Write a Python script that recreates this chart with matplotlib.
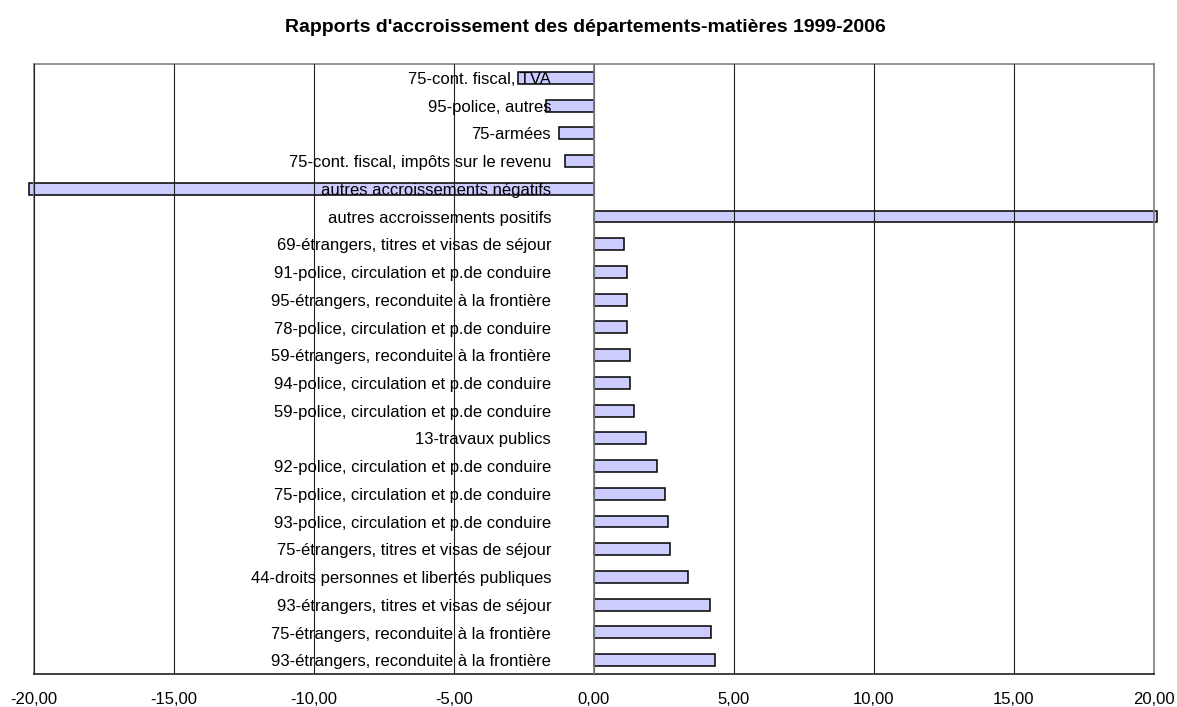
import matplotlib.pyplot as plt

# --- DATA (top to bottom as shown) ---
CATEGORIES = [
    "75-cont. fiscal, TVA",
    "95-police, autres",
    "75-armées",
    "75-cont. fiscal, impôts sur le revenu",
    "autres accroissements négatifs",
    "autres accroissements positifs",
    "69-étrangers, titres et visas de séjour",
    "91-police, circulation et p.de conduire",
    "95-étrangers, reconduite à la frontière",
    "78-police, circulation et p.de conduire",
    "59-étrangers, reconduite à la frontière",
    "94-police, circulation et p.de conduire",
    "59-police, circulation et p.de conduire",
    "13-travaux publics",
    "92-police, circulation et p.de conduire",
    "75-police, circulation et p.de conduire",
    "93-police, circulation et p.de conduire",
    "75-étrangers, titres et visas de séjour",
    "44-droits personnes et libertés publiques",
    "93-étrangers, titres et visas de séjour",
    "75-étrangers, reconduite à la frontière",
    "93-étrangers, reconduite à la frontière",
]
VALUES = [
    -2.72, -1.71, -1.25, -1.04, -20.15, 20.12,
    1.08, 1.17, 1.19, 1.19, 1.31, 1.30, 1.43, 1.85,
    2.27, 2.56, 2.65, 2.71, 3.38, 4.15, 4.20, 4.32,
]
XTICKS = [-20, -15, -10, -5, 0, 5, 10, 15, 20]
TITLE = "Rapports d'accroissement des départements-matières 1999-2006"

plt.rcParams['font.family'] = ['Liberation Sans', 'DejaVu Sans']

fig = plt.figure(figsize=(11.77, 7.07), dpi=100)
ax = fig.add_axes([33.5 / 1177, 1 - 674 / 707, (1154 - 33.5) / 1177, 610 / 707])

ypos = list(range(len(CATEGORIES)))
ax.barh(ypos, VALUES, height=0.43, color='#CCCCFF', edgecolor='black',
        linewidth=1.1, zorder=1, clip_on=False)

ax.set_xlim(-20, 20)
ax.set_ylim(len(CATEGORIES) - 0.5, -0.5)

# labels sit just left of zero, right-aligned
for y, lab in zip(ypos, CATEGORIES):
    ax.text(-1.52, y + 0.06, lab, ha='right', va='center', fontsize=12, zorder=3)

ax.set_xticks(XTICKS)
ax.set_xticklabels([f"{v:.2f}".replace('.', ',') for v in XTICKS], fontsize=12)
ax.tick_params(axis='x', length=0, pad=13)
ax.set_yticks([])

ax.set_axisbelow(False)
ax.grid(axis='x', color='#202020', linewidth=0.8, zorder=2.5)
ax.axvline(0, color='#808080', linewidth=1.2, zorder=2.6)

for side in ['left', 'right', 'top']:
    ax.spines[side].set_color('#808080')
    ax.spines[side].set_linewidth(1.2)
ax.spines['bottom'].set_color('#202020')
ax.spines['bottom'].set_linewidth(1.2)

fig.text(585 / 1177, 1 - 28 / 707, TITLE, ha='center', va='center',
         fontsize=14, fontweight='bold')

fig.savefig('out.png', dpi=100)
